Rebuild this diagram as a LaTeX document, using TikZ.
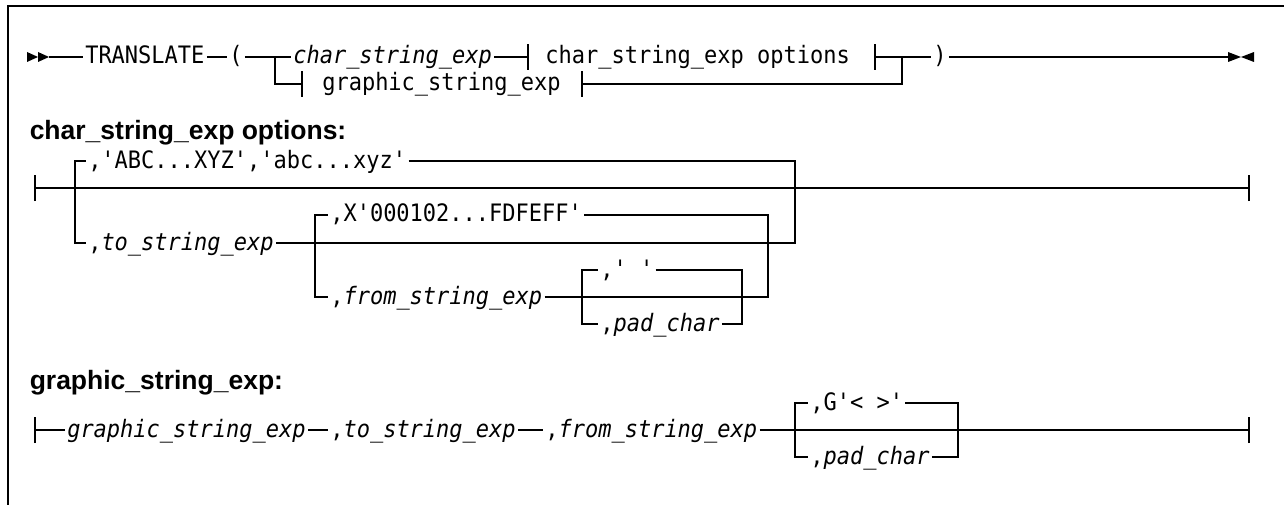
\documentclass[tikz,border=0pt]{standalone}
\usepackage{fontspec}
\setmainfont{Liberation Sans}
\setmonofont{DejaVu Sans Mono}[FakeStretch=0.917]
\begin{document}
\begin{tikzpicture}[x=1pt,y=-1pt, line width=1.5pt,
  t/.style={font=\ttfamily\fontsize{24}{24}\selectfont, inner ysep=0pt, inner xsep=1.5pt, text height=17pt, text depth=3pt, anchor=west},
  ti/.style={t, font=\ttfamily\itshape\fontsize{24}{24}\selectfont},
  hd/.style={font=\bfseries\fontsize{26.5}{26.5}\selectfont, anchor=base west, inner sep=0pt},
  tick/.style={line width=1.5pt},
  frame/.style={line width=2pt}]
\useasboundingbox (0,0) rectangle (1284,505);
\draw[frame] (7.5,505) -- (7.5,6) -- (1284,6);
% ---------- main syntax line
\coordinate (s1) at (49,57);
\fill (27,52) -- (38,57) -- (27,62) -- cycle;
\fill (38,52) -- (49,57) -- (38,62) -- cycle;
\node[t] (trans) at (83,57) {TRANSLATE};
\node[t] (lp) at (227,57) {(};
\node[ti] (cse) at (291,57) {char\_string\_exp};
\node[t] (cseo) at (543,57) {char\_string\_exp options};
\node[t] (rp) at (931,57) {)};
\node[t] (gse) at (320,84) {graphic\_string\_exp};
\coordinate (j1) at (275,57);
\coordinate (j2) at (902,57);
\coordinate (tk1) at (528,57);
\coordinate (tk2) at (875,57);
\coordinate (tk3) at (302,84);
\coordinate (tk4) at (582,84);
\coordinate (e1) at (1228,57);
\draw (s1) -- (trans);
\draw (trans) -- (lp);
\draw (lp) -- (cse);
\draw (cse) -- (tk1);
\draw (tk2) -- (rp);
\draw (rp) -- (e1);
\draw (j1) |- (tk3);
\draw (tk4) -| (j2);
\foreach \c in {tk1,tk2,tk3,tk4} \draw[tick] ([yshift=-13pt]\c) -- ([yshift=13pt]\c);
\fill (1228,52) -- (1241,57) -- (1228,62) -- cycle;
\fill (1254,52) -- (1241,57) -- (1254,62) -- cycle;
% ---------- char_string_exp options
\node[hd] (h2) at (29,140) {char\_string\_exp options:};
\coordinate (st2) at (35,188);
\coordinate (en2) at (1249,188);
\draw (st2) -- (en2);
\foreach \c in {st2,en2} \draw[tick] ([yshift=-13pt]\c) -- ([yshift=13pt]\c);
\node[t] (abc) at (86,161) {,'ABC...XYZ','abc...xyz'};
\node[t] (tos) at (86,243) {,\textit{to\_string\_exp}};
\coordinate (bl) at (75,188);
\coordinate (br) at (795,188);
\draw (bl) |- (abc);
\draw (abc) -| (br);
\draw (bl) |- (tos);
\draw (tos) -| (br);
\node[t] (xff) at (328,215) {,X'000102...FDFEFF'};
\node[t] (frm) at (328,297) {,\textit{from\_string\_exp}};
\coordinate (xl) at (315,243);
\coordinate (xr) at (768,243);
\draw (xl) |- (xff);
\draw (xff) -| (xr);
\draw (xl) |- (frm);
\draw (frm) -| (xr);
\node[t] (sp) at (598,270) {,'\ '};
\node[t] (pad) at (598,324) {,\textit{pad\_char}};
\coordinate (pl) at (582,297);
\coordinate (pr) at (742,297);
\draw (pl) |- (sp);
\draw (sp) -| (pr);
\draw (pl) |- (pad);
\draw (pad) -| (pr);
% ---------- graphic_string_exp
\node[hd] (h3) at (29,389) {graphic\_string\_exp:};
\coordinate (st3) at (35,430);
\coordinate (en3) at (1249,430);
\foreach \c in {st3,en3} \draw[tick] ([yshift=-13pt]\c) -- ([yshift=13pt]\c);
\node[ti] (g1) at (65,430) {graphic\_string\_exp};
\node[t] (g2) at (328,430) {,\textit{to\_string\_exp}};
\node[t] (g3) at (543,430) {,\textit{from\_string\_exp}};
\draw (st3) -- (g1);
\draw (g1) -- (g2);
\draw (g2) -- (g3);
\draw (g3) -- (en3);
\node[t] (gg) at (808,403) {,G'< >'};
\node[t] (gp) at (808,457) {,\textit{pad\_char}};
\coordinate (gl) at (795,430);
\coordinate (gr) at (958,430);
\draw (gl) |- (gg);
\draw (gg) -| (gr);
\draw (gl) |- (gp);
\draw (gp) -| (gr);
\end{tikzpicture}
\end{document}
